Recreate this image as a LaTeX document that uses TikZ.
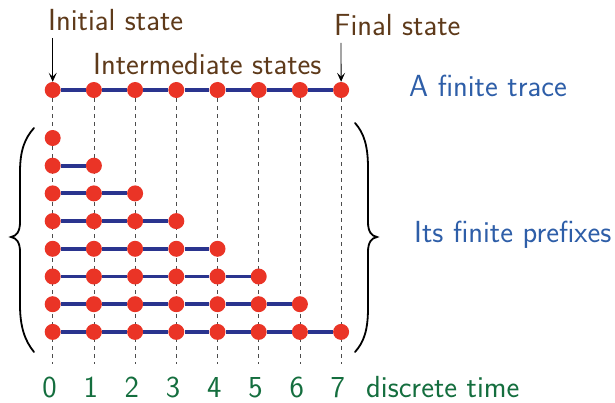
\documentclass[tikz,border=0pt]{standalone}
\usepackage{fontspec}
\usetikzlibrary{arrows.meta,backgrounds}
\definecolor{txtbrown}{RGB}{94,58,26}
\definecolor{txtblue}{RGB}{46,94,168}
\definecolor{txtgreen}{RGB}{20,110,62}
\definecolor{dotred}{RGB}{234,52,38}
\definecolor{lineblue}{RGB}{42,52,142}
\tikzset{
  dotnode/.style={circle,fill=dotred,minimum size=16pt,inner sep=0pt},
  traceline/.style={draw=lineblue,line width=3.8pt},
  dashline/.style={draw=black!70,line width=0.8pt,dash pattern=on 4pt off 4pt},
  lbl/.style={font=\sffamily\fontsize{30.5}{36}\selectfont,inner sep=0pt,anchor=base west},
  pointer/.style={draw=black,line width=0.9pt,-{Stealth[length=9pt,width=8pt,inset=4pt]}},
  bracestroke/.style={draw=black,line width=1.8pt,line cap=round}
}
\begin{document}
\begin{tikzpicture}[x=1pt,y=-1pt]
\useasboundingbox (0,0) rectangle (615,403);
% top trace dots
\foreach \j in {0,...,7}{
  \node[dotnode] (t\j) at ({52.7+41.2*\j},90) {};
  \coordinate (b\j) at ({52.7+41.2*\j},364);
}
\foreach \j [evaluate=\j as \k using int(\j+1)] in {0,...,6}{
  \draw[traceline] (t\j) -- (t\k);
}
% prefixes
\foreach \i in {0,...,7}{
  \foreach \j in {0,...,\i}{
    \node[dotnode] (r\i-\j) at ({52.7+41.2*\j},{138+27.7*\i}) {};
  }
}
\foreach \i in {1,...,7}{
  \foreach \j [evaluate=\j as \k using int(\j+1)] in {1,...,\i}{
    \pgfmathtruncatemacro{\p}{\j-1}
    \draw[traceline] (r\i-\p) -- (r\i-\j);
  }
}
% dashed time lines behind
\begin{pgfonlayer}{background}
\foreach \j in {0,...,7}{
  \draw[dashline] (t\j) -- (b\j);
}
\end{pgfonlayer}
% time labels
\foreach \j in {0,...,7}{
  \node[lbl,anchor=base,text=txtgreen] (n\j) at ({49.5+41.2*\j},397) {\j};
}
\node[lbl,text=txtgreen] (dt) at (366,397) {discrete time};
% annotations
\node[lbl,text=txtbrown] (init) at (48,31) {Initial state};
\node[lbl,text=txtbrown] (inter) at (93,75) {Intermediate states};
\node[lbl,text=txtbrown] (fin) at (334,36) {Final state};
\coordinate (ia) at (52.7,38);
\coordinate (fa) at (341,43);
\draw[pointer] (ia) -- (t0);
\draw[pointer] (fa) -- (t7);
\node[lbl,text=txtblue] (trace) at (409,97) {A finite trace};
\node[lbl,text=txtblue] (pref) at (414,243) {Its finite prefixes};
% braces
\draw[bracestroke] (34,128) .. controls (25,138) and (20,150) .. (20,172)
  -- (20,222) .. controls (20,231) and (17,236) .. (11,237)
  .. controls (17,238) and (20,243) .. (20,252)
  -- (20,305) .. controls (20,327) and (25,341) .. (34,352);
\draw[bracestroke] (355,123) .. controls (364,133) and (368,146) .. (368,168)
  -- (368,222) .. controls (368,231) and (371,236) .. (377,237)
  .. controls (371,238) and (368,243) .. (368,252)
  -- (368,308) .. controls (368,330) and (364,342) .. (355,352);
\end{tikzpicture}
\end{document}
